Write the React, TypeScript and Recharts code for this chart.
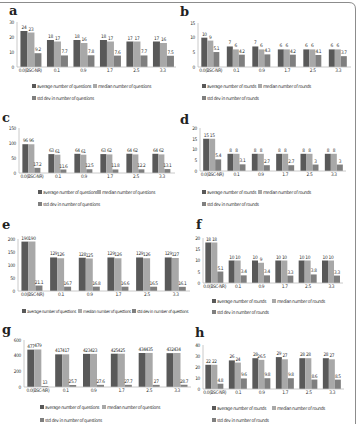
import { BarChart, Bar, XAxis, YAxis, LabelList } from "recharts";

// Error-rate settings along the x axis
const groups = ["0.0(BSC-NR)", "0.1", "0.9", "1.7", "2.5", "3.3"];

// a: questions
const aAvg = [24, 18, 18, 18, 17, 17];
const aMed = [23, 17, 16, 17, 17, 16];
const aSd = [9.2, 7.7, 7.8, 7.6, 7.7, 7.5];
// b: rounds
const bAvg = [10, 7, 7, 6, 6, 6];
const bMed = [9, 6, 6, 6, 6, 6];
const bSd = [5.1, 4.2, 4.3, 4.2, 4.1, 3.7];
// c: questions
const cAvg = [96, 63, 64, 63, 64, 64];
const cMed = [96, 61, 61, 62, 62, 62];
const cSd = [17.2, 11.6, 12.5, 11.8, 12.2, 13.1];
// d: rounds
const dAvg = [15, 8, 8, 8, 8, 8];
const dMed = [15, 8, 8, 8, 8, 8];
const dSd = [5.4, 3.1, 2.7, 2.7, 3, 3];
// e: questions
const eAvg = [190, 129, 128, 129, 129, 129];
const eMed = [190, 126, 125, 126, 126, 127];
const eSd = [21.1, 16.7, 16.8, 16.6, 16.5, 16.1];
// f: rounds
const fAvg = [18, 10, 10, 10, 10, 10];
const fMed = [18, 10, 9, 10, 10, 10];
const fSd = [5.1, 3.4, 3.4, 3.3, 3.8, 3.3];
// g: questions
const gAvg = [477, 417, 423, 425, 434, 432];
const gMed = [479, 417, 423, 425, 435, 434];
const gSd = [13, 25.7, 27.6, 27.7, 27, 28.7];
// h: rounds
const hAvg = [22, 26, 28, 29, 28, 28];
const hMed = [22, 24, 26.5, 27, 28, 27];
const hSd = [4.8, 9.6, 9.8, 9.8, 8.6, 8.5];

const qTicks = {
  a: [0, 10, 20, 30],
  b: [0, 5, 10, 15],
  c: [0, 50, 100, 150],
  d: [0, 5, 10, 15, 20],
  e: [0, 50, 100, 150, 200],
  f: [0, 5, 10, 15, 20],
  g: [0, 200, 400, 600],
  h: [0, 10, 20, 30, 40],
};

const questionNames = [
  "average number of questions",
  "median number of questions",
  "std dev in number of questions",
];
const roundNames = [
  "average number of rounds",
  "median number of rounds",
  "std dev in number of rounds",
];

const COLORS = ["#595959", "#a8a8a8", "#7f7f7f"];
const FONT = "'DejaVu Sans Condensed', 'DejaVu Sans', sans-serif";
const FS = 4.8;
const LS = -0.35; // tighten the small labels
const TXT = "#333";

type Layout = {
  letter: string;
  letterX: number;
  letterY: number;
  left: number;
  top: number;
  width: number;
  height: number;
  // plot box inside the panel: x0, x1, y0 (top), y1 (bottom)
  plot: [number, number, number, number];
  gap: string;
  legend: [number, number][];
  legendFs?: number;
};

const layouts: Record<string, Layout> = {
  a: { letter: "a", letterX: 9, letterY: 16, left: 0, top: 0, width: 179, height: 106, plot: [17, 176, 22, 67], gap: "13%", legend: [[32, 86], [93, 86], [32, 98]] },
  b: { letter: "b", letterX: 180, letterY: 17, left: 179, top: 0, width: 177, height: 106, plot: [19, 172, 23, 67], gap: "13%", legend: [[202, 86], [258, 86], [202, 98]] },
  c: { letter: "c", letterX: 2, letterY: 123, left: 0, top: 106, width: 179, height: 106, plot: [19, 175, 22, 67], gap: "13%", legend: [[38, 192], [97, 192], [38, 204]] },
  d: { letter: "d", letterX: 180, letterY: 125, left: 179, top: 106, width: 177, height: 106, plot: [21, 167, 22, 65], gap: "13%", legend: [[202, 192], [258, 192], [202, 204]] },
  e: { letter: "e", letterX: 2, letterY: 230, left: 0, top: 212, width: 195, height: 106, plot: [18, 190, 27, 79], gap: "12%", legend: [[22, 311], [78, 311], [132, 311]], legendFs: 4.4 },
  f: { letter: "f", letterX: 196, letterY: 230, left: 179, top: 212, width: 177, height: 106, plot: [24, 164, 26, 71], gap: "10%", legend: [[212, 301], [272, 301], [212, 312]] },
  g: { letter: "g", letterX: 2, letterY: 335, left: 0, top: 318, width: 195, height: 106, plot: [24, 191, 22, 69], gap: "12%", legend: [[40, 407], [102, 407], [40, 420]] },
  h: { letter: "h", letterX: 195, letterY: 338, left: 179, top: 318, width: 177, height: 106, plot: [24, 165, 27, 71], gap: "10%", legend: [[212, 408], [272, 408], [212, 420]] },
};

function rows(avg: number[], med: number[], sd: number[]) {
  return groups.map((g, i) => ({ group: g, avg: avg[i], med: med[i], sd: sd[i] }));
}

function SmallText({ x, y, anchor, children }: any) {
  return (
    <text
      x={x}
      y={y}
      textAnchor={anchor}
      fontSize={FS}
      letterSpacing={LS}
      fill={TXT}
      fontFamily={FONT}
    >
      {children}
    </text>
  );
}

const XTick = (p: any) => (
  <SmallText x={p.x} y={p.y + 4} anchor="middle">
    {p.payload.value}
  </SmallText>
);

const YTick = (p: any) => (
  <SmallText x={p.x} y={p.y + 1.8} anchor="end">
    {p.payload.value}
  </SmallText>
);

const ValueLabel = (p: any) => (
  <SmallText x={p.x + p.width / 2} y={p.y - 2} anchor="middle">
    {p.value}
  </SmallText>
);

function Panel({
  id,
  avg,
  med,
  sd,
  names,
}: {
  id: keyof typeof qTicks;
  avg: number[];
  med: number[];
  sd: number[];
  names: string[];
}) {
  const L = layouts[id];
  const ticks = qTicks[id];
  const [x0, x1, y0, y1] = L.plot;
  const axisH = 10;
  const data = rows(avg, med, sd);
  const keys = ["avg", "med", "sd"];

  return (
    <>
      <div
        style={{
          position: "absolute",
          left: L.letterX,
          top: L.letterY - 12,
          fontFamily: "'DejaVu Serif', serif",
          fontWeight: "bold",
          fontSize: 13,
          lineHeight: "13px",
          color: "#222",
        }}
      >
        {L.letter}
      </div>
      <div style={{ position: "absolute", left: L.left, top: L.top }}>
        <BarChart
          width={L.width}
          height={L.height}
          data={data}
          margin={{ top: y0, right: L.width - x1, bottom: L.height - y1 - axisH, left: 0 }}
          barCategoryGap={L.gap}
          barGap={0}
        >
          <XAxis
            dataKey="group"
            height={axisH}
            interval={0}
            tickLine={false}
            tickSize={0}
            tickMargin={1}
            axisLine={{ stroke: "#bdbdbd", strokeWidth: 0.8 }}
            tick={<XTick />}
          />
          <YAxis
            width={x0}
            domain={[ticks[0], ticks[ticks.length - 1]]}
            ticks={ticks}
            interval={0}
            tickLine={false}
            tickSize={0}
            tickMargin={3}
            axisLine={{ stroke: "#bdbdbd", strokeWidth: 0.8 }}
            tick={<YTick />}
          />
          {keys.map((k, i) => (
            <Bar key={k} dataKey={k} fill={COLORS[i]} isAnimationActive={false}>
              <LabelList dataKey={k} content={<ValueLabel />} />
            </Bar>
          ))}
        </BarChart>
      </div>
      {L.legend.map(([lx, ly], i) => (
        <div
          key={i}
          style={{
            position: "absolute",
            left: lx,
            top: ly - 3,
            height: 6,
            display: "flex",
            alignItems: "center",
            gap: 1.5,
            fontFamily: FONT,
            fontSize: L.legendFs ?? FS,
            letterSpacing: LS,
            color: TXT,
            whiteSpace: "nowrap",
          }}
        >
          <span style={{ width: 3.5, height: 3.5, background: COLORS[i], display: "inline-block" }} />
          <span>{names[i]}</span>
        </div>
      ))}
    </>
  );
}

export default function App() {
  return (
    <div
      style={{
        position: "absolute",
        left: 0,
        top: 0,
        width: 358,
        height: 424,
        background: "#fff",
        overflow: "hidden",
      }}
    >
      <Panel id="a" avg={aAvg} med={aMed} sd={aSd} names={questionNames} />
      <Panel id="b" avg={bAvg} med={bMed} sd={bSd} names={roundNames} />
      <Panel id="c" avg={cAvg} med={cMed} sd={cSd} names={questionNames} />
      <Panel id="d" avg={dAvg} med={dMed} sd={dSd} names={roundNames} />
      <Panel id="e" avg={eAvg} med={eMed} sd={eSd} names={questionNames} />
      <Panel id="f" avg={fAvg} med={fMed} sd={fSd} names={roundNames} />
      <Panel id="g" avg={gAvg} med={gMed} sd={gSd} names={questionNames} />
      <Panel id="h" avg={hAvg} med={hMed} sd={hSd} names={roundNames} />
      <svg
        width={358}
        height={424}
        style={{ position: "absolute", left: 0, top: 0, pointerEvents: "none" }}
      >
        <path d="M0,2.5 H349 Q355.5,2.5 355.5,9 V424" fill="none" stroke="#8c8c8c" strokeWidth={1} />
      </svg>
    </div>
  );
}
